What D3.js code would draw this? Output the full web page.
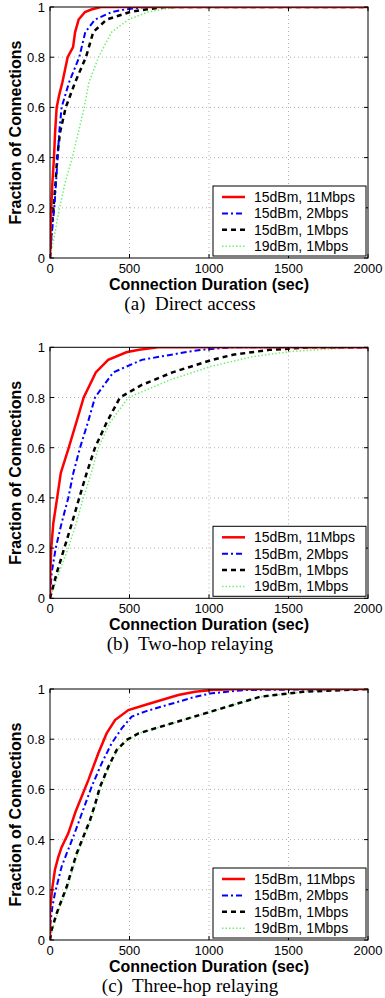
<!DOCTYPE html>
<meta charset="utf-8">
<style>

body {
  margin: 0;
  background: #fff;
}

.tick-label {
  font: 13px "Liberation Sans", Arial, sans-serif;
}

.axis-label {
  font: bold 16px "Liberation Sans", Arial, sans-serif;
}

.caption {
  font: 19px "Liberation Serif", "Times New Roman", serif;
}

.legend text {
  font: 14px "Liberation Sans", Arial, sans-serif;
}

.grid {
  stroke: #b0b0b0;
  stroke-width: 1px;
  stroke-dasharray: 1,3;
}

.frame {
  fill: none;
  stroke: #000;
  stroke-width: 1px;
}

.curve {
  fill: none;
}

</style>
<svg width="385" height="998"></svg>
<script src="https://d3js.org/d3.v7.min.js"></script>
<script>

// CDF points: [duration (sec), fraction of connections]
var directRed = [[0,0],[3,0.1],[8,0.2],[15,0.3],[25,0.4],[32,0.5],[42,0.6],[58,0.65],[78,0.7],[111,0.8],[145,0.84],[158,0.9],[180,0.95],[220,0.98],[260,0.99],[320,1],[2000,1]];
var directBlue = [[0,0],[5,0.05],[12,0.1],[27,0.2],[38,0.3],[48,0.4],[58,0.5],[73,0.6],[120,0.7],[184,0.8],[222,0.9],[283,0.95],[388,0.98],[470,0.99],[600,1],[2000,1]];
var directBlack = [[0,0],[8,0.1],[22,0.2],[35,0.3],[45,0.4],[63,0.5],[99,0.6],[158,0.7],[226,0.8],[272,0.9],[356,0.95],[503,0.98],[600,0.99],[720,1],[2000,1]];
var directGreen = [[0,0],[15,0.05],[31,0.1],[60,0.2],[95,0.3],[140,0.4],[178,0.5],[215,0.6],[245,0.7],[305,0.8],[388,0.9],[493,0.95],[617,0.98],[700,0.99],[820,1],[2000,1]];

var twoHopRed = [[0,0],[2,0.1],[8,0.2],[21,0.3],[45,0.4],[68,0.5],[118,0.6],[165,0.7],[212,0.8],[288,0.9],[366,0.95],[480,0.98],[560,0.99],[680,1],[2000,1]];
var twoHopBlue = [[0,0],[10,0.1],[36,0.2],[73,0.3],[115,0.4],[147,0.5],[189,0.6],[238,0.7],[283,0.8],[398,0.9],[577,0.95],[849,0.98],[950,0.99],[1150,1],[2000,1]];
var twoHopBlack = [[0,0],[42,0.1],[90,0.2],[138,0.3],[184,0.4],[231,0.5],[283,0.6],[356,0.7],[440,0.8],[577,0.85],[770,0.9],[1020,0.95],[1150,0.97],[1380,0.99],[1650,1],[2000,1]];
var twoHopGreen = [[0,0],[55,0.1],[115,0.2],[165,0.3],[210,0.4],[260,0.5],[304,0.6],[377,0.7],[493,0.8],[680,0.85],[755,0.87],[1006,0.923],[1277,0.963],[1510,0.983],[1800,0.995],[2000,1]];

var threeHopRed = [[0,0],[0,0.12],[15,0.21],[31,0.28],[52,0.33],[73,0.37],[115,0.425],[160,0.51],[241,0.637],[304,0.744],[356,0.823],[409,0.876],[493,0.916],[597,0.936],[702,0.956],[807,0.976],[912,0.989],[1017,0.996],[1200,1],[2000,1]];
var threeHopBlue = [[0,0],[0,0.053],[15,0.133],[31,0.186],[52,0.239],[73,0.292],[105,0.345],[147,0.412],[192,0.49],[262,0.611],[325,0.704],[388,0.784],[451,0.843],[514,0.89],[597,0.91],[702,0.93],[807,0.949],[912,0.969],[1017,0.983],[1227,0.996],[2000,1]];
var threeHopBlack = [[0,0],[10,0.04],[42,0.106],[73,0.159],[105,0.212],[136,0.279],[168,0.345],[210,0.412],[252,0.478],[283,0.54],[315,0.611],[367,0.69],[419,0.757],[482,0.797],[556,0.823],[660,0.843],[765,0.863],[870,0.883],[975,0.903],[1080,0.923],[1184,0.943],[1321,0.969],[1593,0.989],[2000,1]];
var threeHopGreen = [[0,0],[14,0.04],[47,0.106],[78,0.159],[111,0.212],[142,0.279],[174,0.345],[215,0.412],[257,0.478],[288,0.54],[320,0.611],[372,0.69],[424,0.757],[487,0.797],[560,0.823],[665,0.843],[770,0.863],[875,0.883],[980,0.903],[1085,0.923],[1190,0.943],[1326,0.969],[1598,0.989],[2000,1]];

var legendLabels = ["15dBm, 11Mbps", "15dBm, 2Mbps", "15dBm, 1Mbps", "19dBm, 1Mbps"];
var xTicks = [0, 500, 1000, 1500, 2000];
var yTicks = [0, 0.2, 0.4, 0.6, 0.8, 1];
var captions = ["(a)  Direct access", "(b)  Two-hop relaying", "(c)  Three-hop relaying"];

var styles = [
  {color: "#ff0000", width: 2.5, dash: null},
  {color: "#0000ff", width: 2, dash: "6,3,2,3"},
  {color: "#000000", width: 2.5, dash: "5,4"},
  {color: "#70f070", width: 1.5, dash: "1.5,2"}
];

var svg = d3.select("svg"),
    left = 50,
    right = 368,
    plotH = 251;

var x = d3.scaleLinear().domain([0, 2000]).range([left, right]);

var panels = [
  {top: 7, series: [directRed, directBlue, directBlack, directGreen]},
  {top: 347.3, series: [twoHopRed, twoHopBlue, twoHopBlack, twoHopGreen]},
  {top: 689, series: [threeHopRed, threeHopBlue, threeHopBlack, threeHopGreen]}
];

panels.forEach(function(p, i) {
  var y = d3.scaleLinear().domain([0, 1]).range([p.top + plotH, p.top]);
  var g = svg.append("g");

  g.append("clipPath").attr("id", "clip" + i)
    .append("rect")
      .attr("x", left).attr("y", p.top)
      .attr("width", right - left).attr("height", plotH);

  // grid
  g.selectAll(".gx").data(xTicks.slice(1, -1))
    .enter().append("line")
      .attr("class", "grid")
      .attr("x1", d => x(d)).attr("x2", d => x(d))
      .attr("y1", p.top).attr("y2", p.top + plotH);
  g.selectAll(".gy").data(yTicks.slice(1, -1))
    .enter().append("line")
      .attr("class", "grid")
      .attr("x1", left).attr("x2", right)
      .attr("y1", d => y(d)).attr("y2", d => y(d));

  // curves
  var line = d3.line()
      .x(d => x(d[0]))
      .y(d => y(d[1]));

  g.append("g").attr("clip-path", "url(#clip" + i + ")")
    .selectAll("path")
    .data(p.series.slice().reverse())
    .enter().append("path")
      .attr("class", "curve")
      .attr("d", line)
      .each(function(d, j) {
        var s = styles[3 - j];
        d3.select(this)
          .attr("stroke", s.color)
          .attr("stroke-width", s.width)
          .attr("stroke-dasharray", s.dash);
      });

  // frame and inward ticks
  g.append("rect").attr("class", "frame")
    .attr("x", left).attr("y", p.top)
    .attr("width", right - left).attr("height", plotH);

  xTicks.forEach(function(t) {
    g.append("line").attr("class", "frame")
      .attr("x1", x(t)).attr("x2", x(t)).attr("y1", p.top + plotH).attr("y2", p.top + plotH - 4);
    g.append("line").attr("class", "frame")
      .attr("x1", x(t)).attr("x2", x(t)).attr("y1", p.top).attr("y2", p.top + 4);
  });
  yTicks.forEach(function(t) {
    g.append("line").attr("class", "frame")
      .attr("x1", left).attr("x2", left + 4).attr("y1", y(t)).attr("y2", y(t));
    g.append("line").attr("class", "frame")
      .attr("x1", right).attr("x2", right - 4).attr("y1", y(t)).attr("y2", y(t));
  });

  // tick labels
  g.selectAll(".xl").data(xTicks)
    .enter().append("text")
      .attr("class", "tick-label")
      .attr("x", d => x(d))
      .attr("y", p.top + plotH + 15)
      .attr("text-anchor", "middle")
      .text(d => d);
  g.selectAll(".yl").data(yTicks)
    .enter().append("text")
      .attr("class", "tick-label")
      .attr("x", left - 5)
      .attr("y", d => y(d) + 5)
      .attr("text-anchor", "end")
      .text(d => d);

  // axis labels
  g.append("text").attr("class", "axis-label")
    .attr("x", (left + right) / 2)
    .attr("y", p.top + plotH + 32)
    .attr("text-anchor", "middle")
    .text("Connection Duration (sec)");
  g.append("text").attr("class", "axis-label")
    .attr("transform", "translate(21," + (p.top + plotH / 2) + ") rotate(-90)")
    .attr("text-anchor", "middle")
    .text("Fraction of Connections");

  g.append("text").attr("class", "caption")
    .attr("x", 190)
    .attr("y", p.top + plotH + 52)
    .attr("text-anchor", "middle")
    .style("white-space", "pre")
    .text(captions[i]);

  // legend
  var lg = g.append("g").attr("class", "legend")
      .attr("transform", "translate(213," + (p.top + 179) + ")");
  lg.append("rect")
    .attr("width", 153).attr("height", 70)
    .attr("fill", "#fff").attr("stroke", "#000").attr("stroke-width", 1);
  legendLabels.forEach(function(lab, k) {
    var cy = 11 + k * 16.4;
    lg.append("line")
      .attr("x1", 9).attr("x2", 32).attr("y1", cy).attr("y2", cy)
      .attr("stroke", styles[k].color)
      .attr("stroke-width", styles[k].width)
      .attr("stroke-dasharray", styles[k].dash);
    lg.append("text")
      .attr("x", 41).attr("y", cy + 5)
      .text(lab);
  });
});

</script>
